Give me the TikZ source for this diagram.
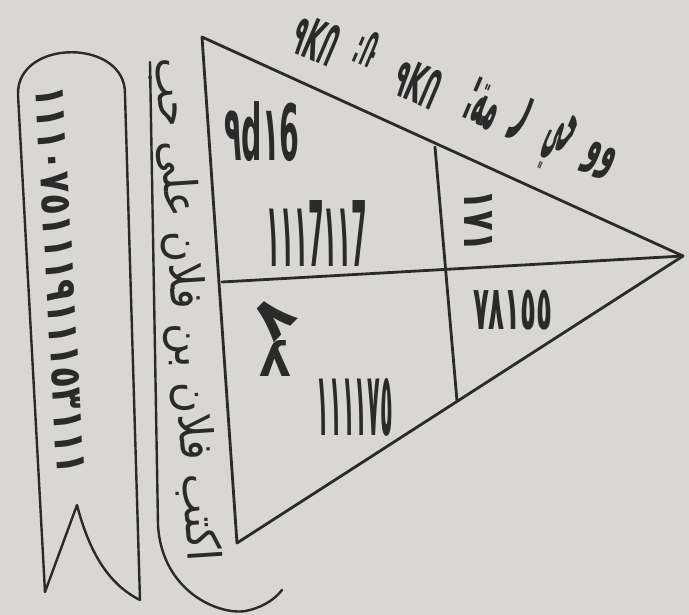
\documentclass[tikz,border=0pt]{standalone}
\usepackage{fontspec}
\setmainfont{DejaVu Sans}
\newfontfamily\arabicfont[Script=Arabic]{DejaVu Sans}
\TeXXeTstate=1
\definecolor{paper}{HTML}{D8D7D3}
\definecolor{ink}{HTML}{2A2A2A}
\tikzset{
  edge/.style={draw=ink, line width=2.8pt, line cap=round, line join=round},
  frame/.style={draw=ink, line width=2.4pt, line cap=round, line join=round},
  lbl/.style={inner sep=0pt, outer sep=0pt, text=ink, anchor=center},
}
\newcommand{\fitbox}[3]{\resizebox*{#1pt}{#2pt}{#3}}
\begin{document}
\begin{tikzpicture}[x=1pt,y=-1pt]
\fill[paper] (0,0) rectangle (689,615);
\useasboundingbox (0,0) rectangle (689,615);
% triangle corners and dividers
\coordinate (A) at (202,37);
\coordinate (B) at (237,543);
\coordinate (C) at (683,256);
\coordinate (M) at (222,282);
\coordinate (P) at (435,147);
\coordinate (Q) at (457,401);
\draw[edge] (A) -- (B) -- (C) -- cycle;
\draw[edge] (M) -- (C);
\draw[edge] (P) -- (Q);
% banner strip with forked tail
\coordinate (s1) at (18,95);
\coordinate (s2) at (125,95);
\coordinate (s3) at (140,600);
\coordinate (s4) at (45,592);
\coordinate (s5) at (77,505);
\draw[frame] (s4) -- (s1) .. controls (16,38) and (127,38) .. (s2) -- (s3);
\draw[frame] (s4) -- (s5) .. controls (90,555) and (110,585) .. (s3);
% bracket round the side text
\coordinate (b1) at (150,62);
\coordinate (b2) at (158,525);
\coordinate (b3) at (282,590);
\draw[frame] (b1) -- (b2) .. controls (162,595) and (225,618) .. (250,610) .. controls (265,606) and (276,598) .. (b3);
% text in the banner
\node[lbl, rotate=-86.8] (strip) at (60,280) {\fitbox{390}{28}{\bfseries ١١١٠٧٥١١١٩١١١٥٣١١١}};
% text beside the triangle
\node[lbl, rotate=-86.3] (side) at (184,310) {\fitbox{505}{46}{\arabicfont\beginR اكتب فلان بن فلان على حب\endR}};
% text along the upper edge
\node[lbl, rotate=-23] (h1) at (316,40) {\fitbox{44}{42}{\bfseries ٩KՈ}};
\node[lbl, rotate=-23] (h2) at (367,48) {\fitbox{20}{36}{\bfseries :Ռ}};
\node[lbl, rotate=-23] (h3) at (418,83) {\fitbox{46}{40}{\bfseries ٩KՈ}};
\node[lbl, rotate=-23] (h4) at (484,104) {\fitbox{34}{46}{\arabicfont\bfseries\beginR مة:\endR}};
\node[lbl, rotate=-23] (h5) at (521,119) {\fitbox{14}{46}{\arabicfont\bfseries ر}};
\node[lbl, rotate=-23] (h6) at (557,143) {\fitbox{26}{62}{\arabicfont\bfseries\beginR حي\endR}};
\node[lbl, rotate=-23] (h7) at (599,161) {\fitbox{30}{34}{\arabicfont\bfseries\beginR وو\endR}};
% cell contents
\node[lbl] (c1) at (262,132) {\fitbox{75}{60}{\bfseries ٩d١6}};
\node[lbl] (c2) at (317,233) {\fitbox{100}{66}{\bfseries ١١١7١١7}};
\node[lbl, rotate=-90] (c3) at (478,221) {\fitbox{62}{28}{\bfseries ١٧١}};
\node[lbl, rotate=-135] (c4) at (273,318) {\fitbox{36}{36}{\bfseries ٧}};
\node[lbl] (c5) at (276,358) {\fitbox{32}{36}{\bfseries ʎ}};
\node[lbl] (c6) at (355,407) {\fitbox{76}{58}{\bfseries ١١١١٧٥}};
\node[lbl] (c7) at (513,310) {\fitbox{80}{40}{\bfseries ٧٨١٥٥}};
\end{tikzpicture}
\end{document}
